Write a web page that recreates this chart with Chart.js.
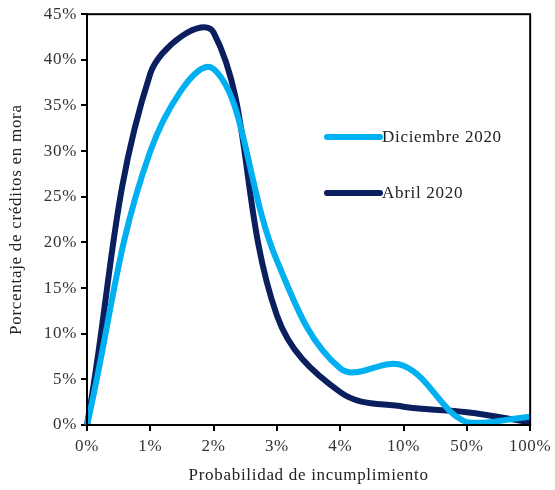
<!DOCTYPE html>
<html>
<head>
<meta charset="utf-8">
<script src="https://cdn.jsdelivr.net/npm/chart.js@4/dist/chart.umd.min.js"></script>
<style>
html,body{margin:0;padding:0;background:#fff;}
#wrap{width:555px;height:490px;position:relative;}
</style>
</head>
<body>
<div id="wrap"><canvas id="chart" width="555" height="490"></canvas></div>
<script>
// categorias del eje x (probabilidad de incumplimiento)
var categorias=['0%','1%','2%','3%','4%','10%','50%','100%'];
// porcentaje de creditos en mora
var diciembre2020=[0,30,39,18,6.2,6.5,0.3,0.9];
var abril2020=[0,38.5,43,12,3.6,2.0,1.4,0.3];
var nombres=['Diciembre 2020','Abril 2020'];
var colores=['#00B0F0','#0B1F5E'];

var fuente='"Liberation Serif", "Times New Roman", serif';

// espaciado de letras parecido al original
var espaciado={
	id:'espaciado',
	beforeDraw:function(chart){
		chart.ctx.letterSpacing='0.7px';
	}
};

// marco negro alrededor del area del grafico + leyenda interna
var marco={
	id:'marco',
	afterDraw:function(chart){
		var ctx=chart.ctx;
		var a=chart.chartArea;
		ctx.save();
		ctx.strokeStyle='#000';
		ctx.lineWidth=2;
		ctx.strokeRect(a.left,a.top,a.right-a.left,a.bottom-a.top);
		// leyenda
		var filas=[137,193];
		ctx.font='17px '+fuente;
		ctx.letterSpacing='0.7px';
		ctx.textBaseline='middle';
		ctx.textAlign='left';
		for(var i=0;i<nombres.length;i++){
			ctx.strokeStyle=colores[i];
			ctx.lineWidth=6;
			ctx.lineCap='round';
			ctx.beginPath();
			ctx.moveTo(327,filas[i]);
			ctx.lineTo(380,filas[i]);
			ctx.stroke();
			ctx.fillStyle='#222';
			ctx.fillText(nombres[i],382,filas[i]+1);
		}
		ctx.restore();
	}
};

var ctx=document.getElementById('chart');
new Chart(ctx,{
	type:'line',
	data:{
		labels:categorias,
		datasets:[{
			label:nombres[0],
			data:diciembre2020,
			borderColor:colores[0],
			borderWidth:6,
			pointRadius:0,
			tension:0.38,
			fill:false
		},{
			label:nombres[1],
			data:abril2020,
			borderColor:colores[1],
			borderWidth:6,
			pointRadius:0,
			tension:0.38,
			fill:false
		}]
	},
	options:{
		responsive:false,
		animation:false,
		layout:{padding:{left:6,right:24,top:10,bottom:0}},
		plugins:{
			legend:{display:false},
			tooltip:{enabled:false}
		},
		scales:{
			x:{
				offset:false,
				grid:{display:true,drawOnChartArea:false,drawTicks:true,tickLength:6,color:'#000',lineWidth:2},
				border:{display:true,color:'#000',width:2},
				ticks:{color:'#333',font:{family:fuente,size:17},padding:5,maxRotation:0,autoSkip:false},
				title:{display:true,text:'Probabilidad de incumplimiento',color:'#222',font:{family:fuente,size:17},padding:{top:6}},
				afterFit:function(s){s.height=65;}
			},
			y:{
				min:0,max:45,
				grid:{display:true,drawOnChartArea:false,drawTicks:true,tickLength:6,color:'#000',lineWidth:2},
				border:{display:true,color:'#000',width:2},
				ticks:{stepSize:5,color:'#333',font:{family:fuente,size:17},padding:4,autoSkip:false,
					callback:function(v){return v+'%';}},
				title:{display:true,text:'Porcentaje de créditos en mora',color:'#222',font:{family:fuente,size:17},padding:{top:0,bottom:0}},
				afterFit:function(s){s.width=81;}
			}
		}
	},
	plugins:[espaciado,marco]
});
</script>
</body>
</html>
